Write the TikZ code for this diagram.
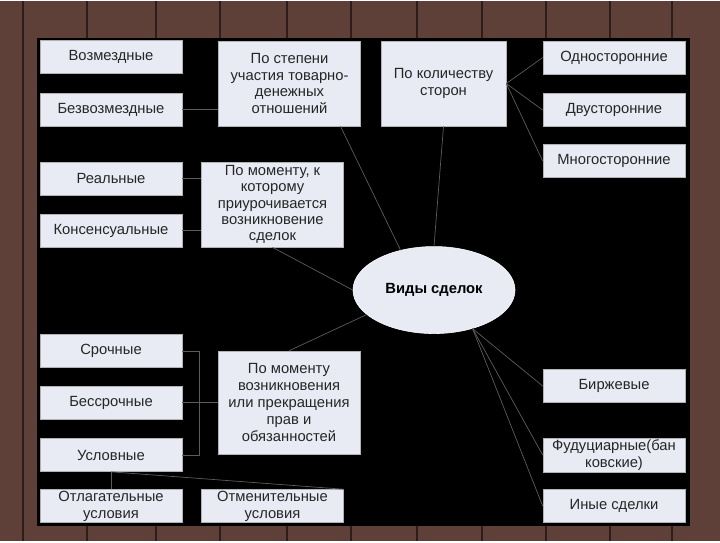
\documentclass[tikz,border=0pt]{standalone}
\usepackage{fontspec}
\setmainfont{Liberation Sans}
\usetikzlibrary{shapes.geometric}

\definecolor{boxfill}{HTML}{E8EBF4}
\definecolor{wood}{HTML}{5E4039}
\definecolor{plank}{HTML}{2E1E1B}
\definecolor{linkgray}{HTML}{5C5C5C}

\begin{document}
\begin{tikzpicture}[x=0.025cm,y=-0.025cm]
  \tikzset{box/.style = {shape=rectangle,draw=gray!60,fill=boxfill,minimum width=3.55cm,minimum height=0.825cm,inner sep=1pt,align=center,font=\fontsize{10.5}{12}\selectfont,text=black!85}}
  \tikzset{tall/.style = {box,minimum height=2.125cm}}
  \tikzset{link/.style = {draw=linkgray,line width=0.5pt}}

  % background
  \fill[wood] (0,0) rectangle (720,540);
  \foreach \x in {23,87,156,220,287,351,417,482,546,610,672}
    \draw[plank,line width=1.5pt] (\x,0) -- (\x,540);
  \fill[black] (37,37) rectangle (690,525);

  % left column
  \node[box] (voz) at (111,56) {Возмездные};
  \node[box] (bezvoz) at (111,108.5) {Безвозмездные};
  \node[box] (real) at (111,177.5) {Реальные};
  \node[box] (kons) at (111,229.5) {Консенсуальные};
  \node[box] (sroch) at (111,350) {Срочные};
  \node[box] (bessroch) at (111,401.5) {Бессрочные};
  \node[box] (uslov) at (111,454) {Условные};
  \node[box] (otlag) at (111,505) {Отлагательные\\условия};

  % middle
  \node[tall] (stepeni) at (289.5,82.5) {По степени\\участия товарно-\\денежных\\отношений};
  \node[tall,minimum width=3.125cm] (kolvo) at (443.5,82.5) {По количеству\\сторон};
  \node[tall,font=\fontsize{10.5}{11.6}\selectfont] (moment1) at (272.5,203.5) {По моменту, к\\которому\\приурочивается\\возникновение\\сделок};
  \node[tall,minimum height=2.575cm] (moment2) at (289,401.5) {По моменту\\возникновения\\или прекращения\\прав и\\обязанностей};
  \node[box] (otmen) at (272.5,505) {Отменительные\\условия};
  \node[ellipse,draw=white,fill=boxfill,minimum width=4.05cm,minimum height=2.175cm,font=\fontsize{10.5}{12}\bfseries\selectfont] (vid) at (434,289) {Виды сделок};

  % right column
  \node[box] (odno) at (614,56.5) {Односторонние};
  \node[box] (dvu) at (614,109) {Двусторонние};
  \node[box] (mnogo) at (614,160) {Многосторонние};
  \node[box] (birzh) at (614,385) {Биржевые};
  \node[box] (fidu) at (614,454) {Фудуциарные(бан\\ковские)};
  \node[box] (inye) at (614,505) {Иные сделки};

  \draw[link] (bezvoz.east) -- (stepeni.west |- bezvoz.east);
  \draw[link] (real.east) -- (moment1.west |- real.east);
  \draw[link] (kons.east) -- (moment1.west |- kons.east);
  \draw[link] (bessroch.east) -- (moment2.west |- bessroch.east);
  \draw[link] (sroch.east) -- ++(17,0) |- (uslov.east);

  \foreach \from/\to in {stepeni.-40/vid.130, kolvo.south/vid.north, moment1.south/vid.west,
      vid.200/moment2.north, vid.-45/birzh.west, vid.-45/fidu.west, vid.-45/inye.west,
      kolvo.east/odno.west, kolvo.east/dvu.west, kolvo.east/mnogo.west,
      uslov.south/otlag.north, uslov.south/otmen.north east}
    \draw[link] (\from) -- (\to);
\end{tikzpicture}
\end{document}
